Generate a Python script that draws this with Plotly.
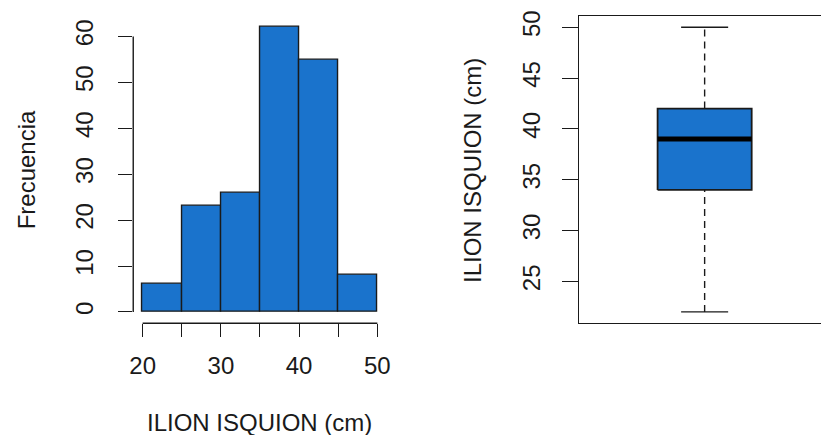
import plotly.graph_objects as go

# ---- data ----
bin_edges = [20, 25, 30, 35, 40, 45, 50]
counts = [6, 23, 26, 62, 55, 8]
hist_yticks = [0, 10, 20, 30, 40, 50, 60]
hist_xticks = [20, 25, 30, 35, 40, 45, 50]
hist_xticklabels = ["20", "", "30", "", "40", "", "50"]

box_lower = 22
box_q1 = 34
box_median = 39
box_q3 = 42
box_upper = 50
box_yticks = [25, 30, 35, 40, 45, 50]

x_title = "ILION ISQUION (cm)"
y_title_hist = "Frecuencia"
y_title_box = "ILION ISQUION (cm)"

# ---- styles ----
W, H = 825, 435
FILL = "#1a73cc"
INK = "#1a1a1a"
FONT = dict(family="Liberation Sans, Arial, sans-serif", size=24, color=INK)

centers = [(a + b) / 2 for a, b in zip(bin_edges[:-1], bin_edges[1:])]
widths = [b - a for a, b in zip(bin_edges[:-1], bin_edges[1:])]

fig = go.Figure()

fig.add_trace(go.Bar(
    x=centers, y=counts, width=widths,
    marker=dict(color=FILL, line=dict(color=INK, width=1.4)),
    xaxis="x", yaxis="y", showlegend=False, hoverinfo="x+y",
))

# ---- boxplot from stats ----
c = 1.0
hw = 0.4      # box half width
cw = 0.2      # staple half width
line_style = dict(color=INK, width=1.4)

fig.add_trace(go.Scatter(x=[c, c], y=[box_q3, box_upper], mode="lines",
                         line=dict(color=INK, width=1.4, dash="7px,5px"),
                         xaxis="x2", yaxis="y2", showlegend=False))
fig.add_trace(go.Scatter(x=[c, c], y=[box_lower, box_q1], mode="lines",
                         line=dict(color=INK, width=1.4, dash="7px,5px"),
                         xaxis="x2", yaxis="y2", showlegend=False))
fig.add_trace(go.Scatter(x=[c - cw, c + cw], y=[box_upper, box_upper], mode="lines",
                         line=line_style, xaxis="x2", yaxis="y2", showlegend=False))
fig.add_trace(go.Scatter(x=[c - cw, c + cw], y=[box_lower, box_lower], mode="lines",
                         line=line_style, xaxis="x2", yaxis="y2", showlegend=False))
fig.add_trace(go.Scatter(x=[c - hw, c + hw, c + hw, c - hw, c - hw],
                         y=[box_q1, box_q1, box_q3, box_q3, box_q1],
                         mode="lines", fill="toself", fillcolor=FILL,
                         line=dict(color=INK, width=1.8),
                         xaxis="x2", yaxis="y2", showlegend=False))
fig.add_trace(go.Scatter(x=[c - hw, c + hw], y=[box_median, box_median], mode="lines",
                         line=dict(color="#000000", width=5),
                         xaxis="x2", yaxis="y2", showlegend=False))

top_px, bot_px = 11, 322
ydom = [(H - bot_px) / H, (H - top_px) / H]

def dom(x0, x1):
    return [x0 / W, x1 / W]

hx0, hx1 = bin_edges[0], bin_edges[-1]
hxr = [hx0 - 0.04 * (hx1 - hx0), hx1 + 0.04 * (hx1 - hx0)]
hy1 = max(counts)
hyr = [-0.04 * hy1, hy1 * 1.04]

by0, by1 = box_lower, box_upper
byr = [by0 - 0.04 * (by1 - by0), by1 + 0.04 * (by1 - by0)]

px_per_unit = 95 / (2 * hw)
bx_left = c - (707.5 - 581) / px_per_unit
bx_right = c + (W - 707.5) / px_per_unit

fig.update_layout(
    width=W, height=H,
    margin=dict(l=0, r=0, t=0, b=0),
    paper_bgcolor="white", plot_bgcolor="white",
    font=FONT,
    bargap=0,
    xaxis=dict(domain=dom(130.5, 386.5), range=hxr, anchor="y",
               showgrid=False, zeroline=False, showline=False,
               tickmode="array", tickvals=hist_xticks, ticktext=hist_xticklabels,
               ticks="outside", ticklen=13, tickwidth=1.4, tickcolor=INK,
               ticklabelstandoff=8, tickfont=FONT),
    yaxis=dict(domain=ydom, range=hyr, anchor="x",
               showgrid=False, zeroline=False, showline=False,
               tickmode="array", tickvals=hist_yticks,
               ticks="outside", ticklen=14, tickwidth=1.4, tickcolor=INK,
               tickangle=-90, ticklabelstandoff=16, tickfont=FONT),
    xaxis2=dict(domain=dom(581, W), range=[bx_left, bx_right], anchor="y2",
                showgrid=False, zeroline=False, showticklabels=False, ticks="",
                showline=True, mirror=True, linecolor=INK, linewidth=1.4),
    yaxis2=dict(domain=ydom, range=byr, anchor="x2",
                showgrid=False, zeroline=False,
                showline=True, mirror=False, linecolor=INK, linewidth=1.4,
                tickmode="array", tickvals=box_yticks,
                ticks="outside", ticklen=16, tickwidth=1.4, tickcolor=INK,
                tickangle=-90, ticklabelstandoff=13, tickfont=FONT),
)

fig.add_shape(type="line", xref="x", yref="y domain",
              x0=hist_xticks[0], x1=hist_xticks[-1], y0=0, y1=0,
              line=dict(color=INK, width=1.4))
fig.add_shape(type="line", xref="x domain", yref="y",
              x0=0, x1=0, y0=hist_yticks[0], y1=hist_yticks[-1],
              line=dict(color=INK, width=1.4))

fig.add_annotation(text=x_title, xref="paper", yref="paper",
                   x=258.5 / W, y=1 - 422 / H, showarrow=False,
                   xanchor="center", yanchor="middle", font=FONT)
fig.add_annotation(text=y_title_hist, xref="paper", yref="paper",
                   x=23 / W, y=1 - 166.5 / H, showarrow=False, textangle=-90,
                   xanchor="center", yanchor="middle", font=FONT)
fig.add_annotation(text=y_title_box, xref="paper", yref="paper",
                   x=472.5 / W, y=1 - 167 / H, showarrow=False, textangle=-90,
                   xanchor="center", yanchor="middle", font=FONT)

fig.write_html("out.html")
